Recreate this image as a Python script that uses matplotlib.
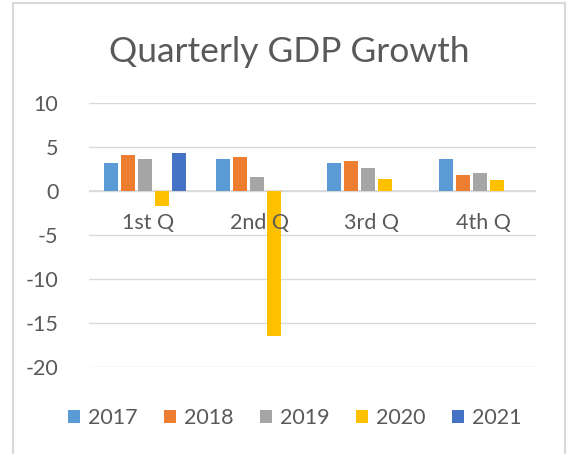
import numpy as np
import matplotlib.pyplot as plt
from matplotlib.patches import Rectangle, Patch

quarters = ['1st Q', '2nd Q', '3rd Q', '4th Q']
years = ['2017', '2018', '2019', '2020', '2021']
growth_2017 = [3.1, 3.6, 3.1, 3.6]
growth_2018 = [4.0, 3.8, 3.4, 1.8]
growth_2019 = [3.6, 1.5, 2.6, 2.0]
growth_2020 = [-1.7, -16.5, 1.3, 1.2]
growth_2021 = [4.3, np.nan, np.nan, np.nan]
series = [growth_2017, growth_2018, growth_2019, growth_2020, growth_2021]
colors = ['#5B9BD5', '#ED7D31', '#A5A5A5', '#FFC000', '#4472C4']

txt = '#595959'
plt.rcParams['font.family'] = ['Lato', 'DejaVu Sans']
plt.rcParams['axes.unicode_minus'] = False

fig = plt.figure(figsize=(5.67, 4.54), dpi=100)
ax = fig.add_axes([0.157, 0.1923, 0.7884, 0.5815])

# chart border like Excel
fig.patches.append(Rectangle((13 / 567, -0.1), (565 - 13) / 567, 1.1 - 3 / 454,
                             transform=fig.transFigure, fill=False,
                             edgecolor='#D9D9D9', linewidth=1.5))

x = np.arange(len(quarters))
pitch = 0.152
width = 0.125
for i, vals in enumerate(series):
    ax.bar(x + (i - 2) * pitch, vals, width, color=colors[i], zorder=3)

ax.set_xlim(-0.5, len(quarters) - 0.5)
ax.set_ylim(-20, 10)
ax.set_yticks(range(-20, 11, 5))
ax.yaxis.grid(True, color='#D9D9D9', linewidth=1)
ax.set_axisbelow(True)
ax.axhline(0, color='#D9D9D9', linewidth=1.2, zorder=2)
for s in ax.spines.values():
    s.set_visible(False)
ax.tick_params(axis='y', length=0, pad=22, labelsize=15.5, labelcolor=txt)
ax.set_xticks([])

for xi, q in zip(x, quarters):
    ax.annotate(q, (xi, 0), xytext=(2, -23.5), textcoords='offset points',
                ha='center', va='center', fontsize=15.5, color=txt)

fig.text(0.51, 1 - 62 / 454, 'Quarterly GDP Growth', ha='center', va='baseline',
         fontsize=25.5, color=txt)

handles = [Patch(facecolor=c, label=y) for c, y in zip(colors, years)]
fig.legend(handles=handles, loc='center', bbox_to_anchor=(0.52, 0.079), ncol=5,
           frameon=False, fontsize=15.5, labelcolor=txt, handlelength=0.56,
           handleheight=0.56, handletextpad=0.35, columnspacing=1.25)

fig.savefig('out.png', dpi=100)
